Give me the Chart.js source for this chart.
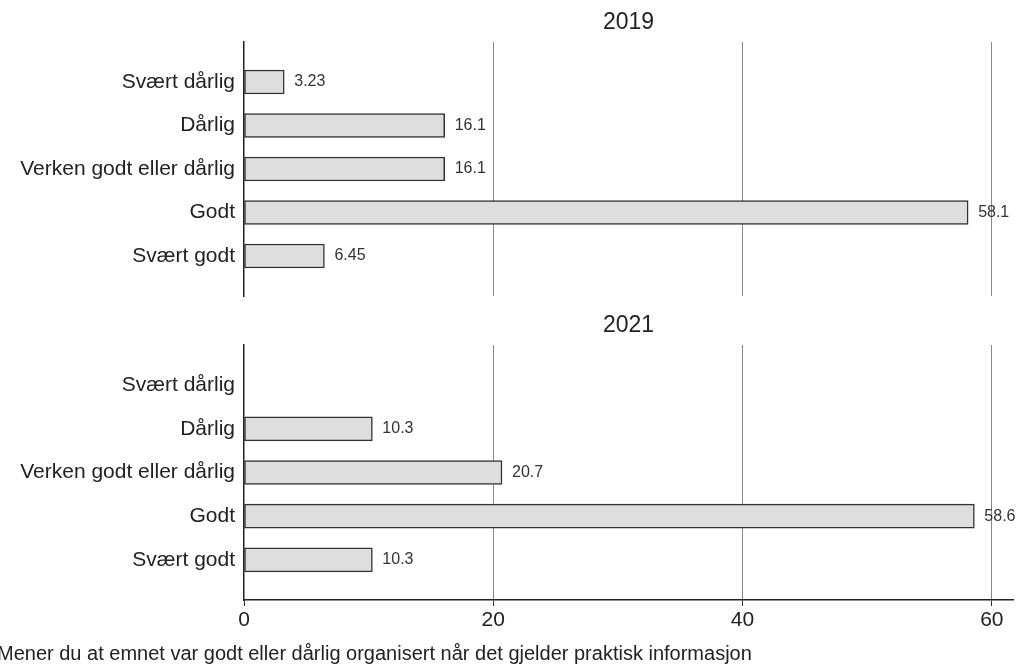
<!DOCTYPE html>
<html>
<head>
<meta charset="utf-8">
<script src="https://cdn.jsdelivr.net/npm/chart.js@4.4.0/dist/chart.umd.min.js"></script>
<style>
body { margin: 0; background: #fff; }
#wrap { position: relative; width: 1021px; height: 669px; overflow: hidden; font-family: "Liberation Sans", Arial, sans-serif; }
#top { position: absolute; left: 0; top: 0; width: 1021px; height: 300px; }
#bottom { position: absolute; left: 0; top: 300px; width: 1021px; height: 369px; }
#xtitle { position: absolute; left: -3px; top: 641px; font-size: 20px; line-height: 24px; color: #222; white-space: nowrap; }
</style>
</head>
<body>
<div id="wrap">
	<div id="top"><canvas id="c2019"></canvas></div>
	<div id="bottom"><canvas id="c2021"></canvas></div>
	<div id="xtitle">Mener du at emnet var godt eller dårlig organisert når det gjelder praktisk informasjon</div>
</div>
<script>
// Answers, top to bottom
var categories = ['Svært dårlig', 'Dårlig', 'Verken godt eller dårlig', 'Godt', 'Svært godt'];
var values2019 = [3.23, 16.1, 16.1, 58.1, 6.45];
var values2021 = [null, 10.3, 20.7, 58.6, 10.3];
var xTicks = [0, 20, 40, 60];

var FONT = '"Liberation Sans", Arial, sans-serif';
Chart.defaults.font.family = FONT;
Chart.defaults.color = '#222';

// Year title centred over the plot area
var panelTitle = {
	id: 'panelTitle',
	afterDraw: function(chart, args, opts) {
		var a = chart.chartArea, ctx = chart.ctx;
		ctx.save();
		ctx.font = '23px ' + FONT;
		ctx.fillStyle = '#222';
		ctx.textAlign = 'center';
		ctx.textBaseline = 'middle';
		ctx.fillText(opts.text, (a.left + a.right) / 2, a.top - 19);
		ctx.restore();
	}
};

// Value text at the end of each bar
var barValues = {
	id: 'barValues',
	afterDatasetsDraw: function(chart) {
		var ctx = chart.ctx;
		var ds = chart.data.datasets[0];
		var meta = chart.getDatasetMeta(0);
		ctx.save();
		ctx.font = '16px ' + FONT;
		ctx.fillStyle = '#333';
		ctx.textAlign = 'left';
		ctx.textBaseline = 'middle';
		meta.data.forEach(function(bar, i) {
			var v = ds.data[i].x;
			if (v === null) return;
			ctx.fillText(String(v), bar.x + 10, bar.y);
		});
		ctx.restore();
	}
};

function makePanel(id, year, values, showAxis, padTop, padBottom) {
	var ctx = document.getElementById(id).getContext('2d');
	return new Chart(ctx, {
		type: 'bar',
		data: {
			datasets: [{
				data: values.map(function(v, i) { return { x: v, y: i }; }),
				backgroundColor: '#dedede',
				borderColor: '#333',
				borderWidth: 1.5,
				borderSkipped: false,
				barThickness: 24
			}]
		},
		plugins: [panelTitle, barValues],
		options: {
			indexAxis: 'y',
			responsive: true,
			maintainAspectRatio: false,
			animation: false,
			layout: { padding: { top: padTop, bottom: padBottom, left: 0, right: 8 } },
			plugins: {
				legend: { display: false },
				tooltip: { enabled: false },
				panelTitle: { text: year }
			},
			scales: {
				y: {
					type: 'linear',
					min: -0.92,
					max: 4.92,
					reverse: true,
					offset: false,
					afterBuildTicks: function(s) {
						s.ticks = categories.map(function(c, i) { return { value: i }; });
					},
					afterFit: function(s) {
						s.width = 244;
						s.paddingTop = 0;
						s.paddingBottom = 0;
					},
					ticks: {
						autoSkip: false,
						padding: 9,
						color: '#222',
						font: { size: 21 },
						callback: function(v) { return categories[v]; }
					},
					grid: { display: false, drawTicks: false, offset: false },
					border: { display: true, color: '#222', width: 1.5 }
				},
				x: {
					type: 'linear',
					min: 0,
					max: 61.7,
					afterBuildTicks: function(s) {
						s.ticks = xTicks.map(function(v) { return { value: v }; });
					},
					afterFit: function(s) {
						s.height = showAxis ? 69 : 0;
						s.paddingLeft = 0;
						s.paddingRight = 0;
					},
					ticks: {
						display: showAxis,
						padding: 2,
						maxRotation: 0,
						color: '#222',
						font: { size: 21 }
					},
					grid: {
						color: function(c) { return c.tick && c.tick.value === 0 ? 'rgba(0,0,0,0)' : '#888'; },
						lineWidth: 1,
						drawTicks: showAxis,
						tickLength: 6,
						tickColor: '#333'
					},
					border: { display: showAxis, color: '#222', width: 1.5 }
				}
			}
		}
	});
}

makePanel('c2019', '2019', values2019, false, 42, 4);
makePanel('c2021', '2021', values2021, true, 45, 0);
</script>
</body>
</html>
